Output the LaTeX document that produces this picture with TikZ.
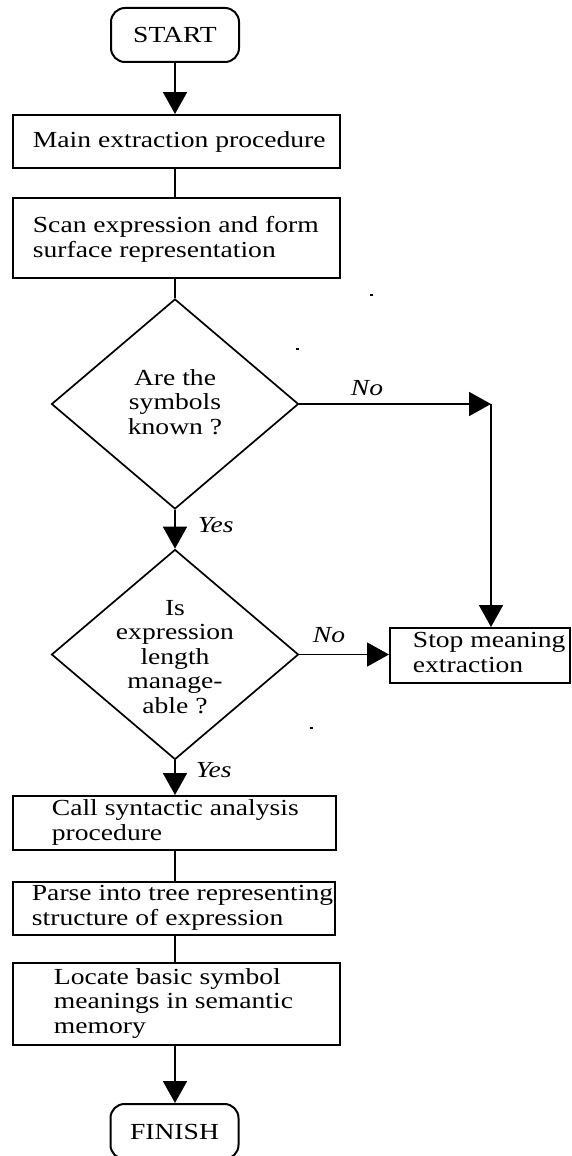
\documentclass[tikz,border=0pt]{standalone}
\usepackage{fontspec}
\setmainfont{Liberation Serif}[FakeStretch=1.2]
\usetikzlibrary{arrows.meta,shapes.geometric}
\begin{document}
\begin{tikzpicture}[x=1pt,y=-1pt,
  line width=1.8pt,
  box/.style={draw, rectangle, inner sep=0pt, line width=2pt},
  term/.style={draw, rectangle, rounded corners=14pt, minimum width=128pt, inner sep=0pt, line width=2pt, font=\fontsize{23}{24.5}\selectfont},
  dec/.style={draw, diamond, inner sep=0pt, line width=1.7pt, minimum width=247pt, minimum height=210pt},
  txt/.style={inner sep=0pt, align=left, anchor=base west, font=\fontsize{23}{24.5}\selectfont},
  ctxt/.style={inner sep=0pt, align=center, font=\fontsize{23}{24.5}\selectfont},
  lbl/.style={inner sep=0pt, anchor=base west, font=\fontsize{23}{24.5}\selectfont\itshape},
  arr/.style={-{Triangle[length=22pt,width=24pt]}}
]
\useasboundingbox (0,0) rectangle (572,1156);
\clip (0,0) rectangle (572,1156);

\node[term, minimum height=54pt] (start) at (175,35) {START};
\node[box, minimum width=327pt, minimum height=53pt] (main) at (176.5,141.5) {};
\node[txt] (mainT) at (32,147) {Main extraction procedure};
\node[box, minimum width=327pt, minimum height=80pt] (scan) at (176.5,238) {};
\node[txt] (scanT) at (32,257) {Scan expression and form\\surface representation};
\node[dec] (d1) at (175,404) {};
\node[ctxt] (d1T) at (175,402) {Are the\\symbols\\known ?};
\node[dec] (d2) at (175,654.5) {};
\node[ctxt] (d2T) at (175,657) {Is\\expression\\length\\manage-\\able ?};
\node[box, minimum width=180pt, minimum height=55pt] (stop) at (480,655.5) {};
\node[txt] (stopT) at (412,672) {Stop meaning\\extraction};
\node[box, minimum width=323pt, minimum height=54pt] (call) at (174.5,823) {};
\node[txt] (callT) at (51,840) {Call syntactic analysis\\procedure};
\node[box, minimum width=322pt, minimum height=53pt] (parse) at (174,908.5) {};
\node[txt] (parseT) at (31,925) {Parse into tree representing\\structure of expression};
\node[box, minimum width=327pt, minimum height=82pt] (loc) at (176.5,1004) {};
\node[txt] (locT) at (53,1033) {Locate basic symbol\\meanings in semantic\\memory};
\node[term, minimum height=55pt, anchor=north] (finish) at (174.5,1103) {FINISH};

\coordinate (corner) at (491,404);

\draw[arr] (start.south) -- (start.south |- main.north);
\draw (d1.north |- main.south) -- (d1.north |- scan.north);
\draw (d1.north |- scan.south) -- (d1.north);
\draw[arr] (d1.south) -- (d2.north);
\draw[arr] (d1.east) -- (corner);
\draw[arr] (corner) -- (corner |- stop.north);
\draw[arr] (d2.east) -- (d2.east -| stop.west);
\draw[arr] (d2.south) -- (d2.south |- call.north);
\draw (d2.south |- call.south) -- (d2.south |- parse.north);
\draw (d2.south |- parse.south) -- (d2.south |- loc.north);
\draw[arr] (d2.south |- loc.south) -- (d2.south |- finish.north);

\node[lbl] (yes1) at (197,532) {Yes};
\node[lbl] (yes2) at (195,777) {Yes};
\node[lbl] (no1) at (350,395) {No};
\node[lbl] (no2) at (312,642) {No};

\fill (369.5,294) rectangle (372.5,296);
\fill (296,348) rectangle (299,350);
\fill (310,727) rectangle (313,729);
\end{tikzpicture}
\end{document}
